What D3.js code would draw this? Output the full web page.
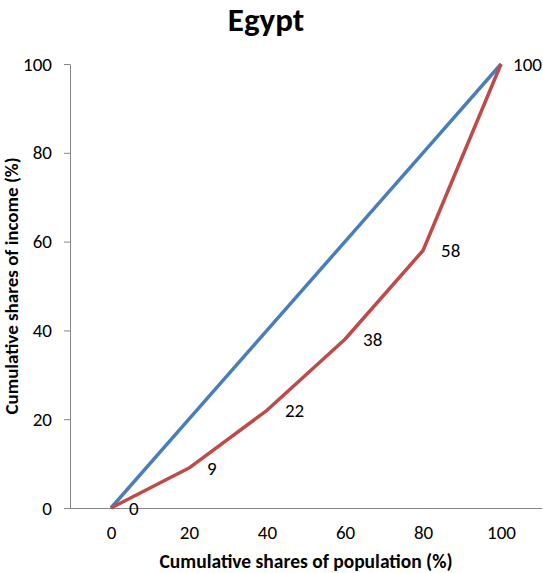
<!DOCTYPE html>
<html>
<head>
<meta charset="utf-8">
<script src="https://cdn.jsdelivr.net/npm/d3@7"></script>
<style>
  html, body { margin: 0; padding: 0; background: #fff; }
  svg { display: block; font-family: Carlito, Lato, "Open Sans", sans-serif; }
</style>
</head>
<body>
<svg id="chart" width="543" height="573"></svg>
<script>
// Cumulative population shares (x) and income shares (y)
const populationShares = [0, 20, 40, 60, 80, 100];
const equalityLine = [0, 20, 40, 60, 80, 100];
const lorenzCurve = [0, 9, 22, 38, 58, 100];
const xTicks = [0, 20, 40, 60, 80, 100];
const yTicks = [0, 20, 40, 60, 80, 100];

const FONT = "Carlito, Lato, 'Open Sans', sans-serif";
const W = 543;
const svg = d3.select("#chart");

const x = d3.scaleLinear().domain([-10.5, 110.5]).range([70, 542]);
const y = d3.scaleLinear().domain([0, 100]).range([508, 64]);

// Title
svg.append("text")
  .attr("x", 266).attr("y", 31)
  .attr("text-anchor", "middle")
  .attr("font-size", 33).attr("font-weight", "bold")
  .attr("fill", "#000")
  .text("Egypt");

// Y axis
const yAxis = svg.append("g")
  .attr("transform", `translate(${x.range()[0]},0)`)
  .call(d3.axisLeft(y).tickValues(yTicks).tickSize(6).tickPadding(12).tickSizeOuter(0));
yAxis.select(".domain").attr("stroke", "#868686");
yAxis.selectAll(".tick line").attr("stroke", "#868686");
yAxis.selectAll(".tick text").attr("font-size", 19).attr("fill", "#000")
  .attr("font-family", FONT);

// X axis (line without tick marks)
const xAxis = svg.append("g")
  .attr("transform", `translate(0,${y(0)})`)
  .call(d3.axisBottom(x).tickValues(xTicks).tickSize(0).tickPadding(18).tickSizeOuter(0));
xAxis.select(".domain").attr("stroke", "#868686").attr("d", `M${x.range()[0] - 6},0.5H${x.range()[1]}`);
xAxis.selectAll(".tick text").attr("font-size", 19).attr("fill", "#000")
  .attr("font-family", FONT);

// Axis titles
svg.append("text")
  .attr("x", 306).attr("y", 568)
  .attr("text-anchor", "middle")
  .attr("font-size", 19.5).attr("font-weight", "bold")
  .text("Cumulative shares of population (%)");

svg.append("text")
  .attr("transform", "translate(18,286) rotate(-90)")
  .attr("text-anchor", "middle")
  .attr("font-size", 19).attr("font-weight", "bold")
  .text("Cumulative shares of income (%)");

const line = d3.line()
  .x((d, i) => x(populationShares[i]))
  .y(d => y(d));

// Line of perfect equality
svg.append("path")
  .datum(equalityLine)
  .attr("fill", "none")
  .attr("stroke", "#4A7EBB")
  .attr("stroke-width", 3.5)
  .attr("stroke-linejoin", "round")
  .attr("d", line);

// Lorenz curve
svg.append("path")
  .datum(lorenzCurve)
  .attr("fill", "none")
  .attr("stroke", "#BE4B48")
  .attr("stroke-width", 3.5)
  .attr("stroke-linejoin", "round")
  .attr("d", line);

// Value labels for the Lorenz curve, kept inside the right edge
svg.append("g")
  .selectAll("text")
  .data(lorenzCurve)
  .join("text")
  .attr("y", d => y(d))
  .attr("dy", "0.35em")
  .attr("font-size", 19)
  .attr("fill", "#000")
  .text(d => d)
  .attr("x", function (d, i) {
    const w = this.getComputedTextLength();
    return Math.min(x(populationShares[i]) + 18, W - w - 1);
  });
</script>
</body>
</html>
